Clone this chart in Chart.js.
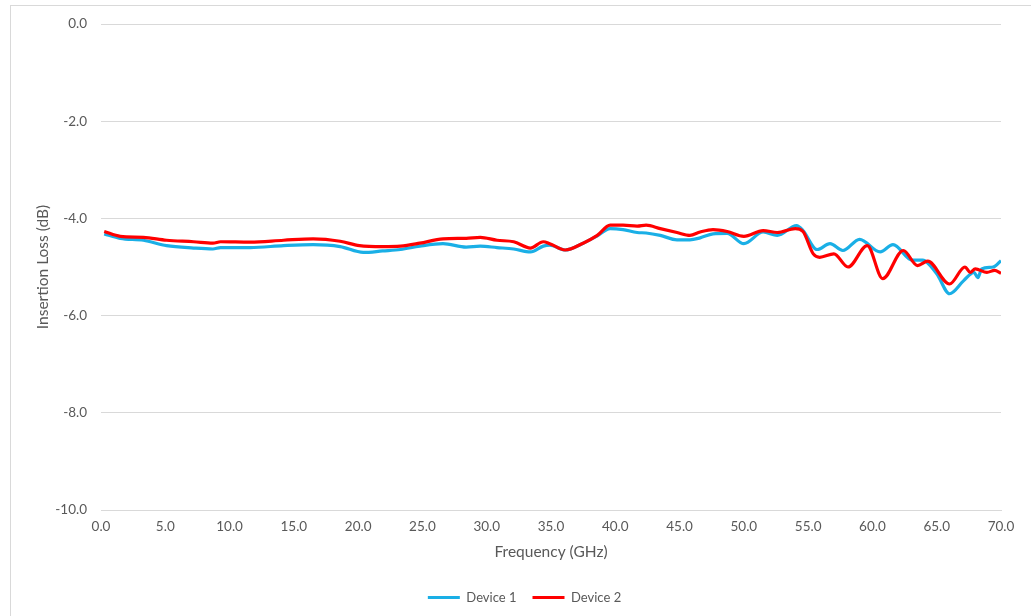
<!DOCTYPE html>
<html>
<head>
<meta charset="utf-8">
<script src="https://cdn.jsdelivr.net/npm/chart.js@4.4.1/dist/chart.umd.min.js"></script>
<style>
  html, body { margin: 0; padding: 0; background: #fff; overflow: hidden; }
  #wrap { position: relative; width: 1031px; height: 616px; }
  #frame { position: absolute; left: 10px; top: 5px; width: 1040px; height: 640px; border: 1px solid #d9d9d9; box-sizing: border-box; pointer-events: none; }
  canvas { position: absolute; left: 0; top: 0; }
</style>
</head>
<body>
<div id="wrap">
  <div id="frame"></div>
  <canvas id="c" width="1031" height="616"></canvas>
</div>
<script>
// ---- Data ----
const seriesNames = ["Device 1", "Device 2"];
const xTickValues = [0, 5, 10, 15, 20, 25, 30, 35, 40, 45, 50, 55, 60, 65, 70];
const yTickValues = [0, -2, -4, -6, -8, -10];

const device1Freq = [0.25,1.5,3.3,5.1,7.2,8.7,9.3,11.6,14.2,16.5,18.6,20.4,21.9,23.3,24.8,26.6,28.4,29.5,30.8,32.1,33.4,34.4,34.9,36.1,37.5,38.6,39.6,40.6,41.7,42.4,43.5,44.8,45.8,46.6,47.6,48.7,50.0,51.5,52.6,54.1,54.6,55.7,56.7,57.7,59.0,60.6,61.6,63.1,63.9,65.0,66.0,67.1,67.9,68.2,68.5,69.4,70.0];
const device1Loss = [-4.32,-4.41,-4.45,-4.56,-4.61,-4.63,-4.60,-4.60,-4.56,-4.54,-4.58,-4.70,-4.67,-4.64,-4.57,-4.52,-4.59,-4.57,-4.60,-4.63,-4.69,-4.57,-4.55,-4.65,-4.51,-4.36,-4.21,-4.23,-4.29,-4.30,-4.35,-4.44,-4.44,-4.40,-4.32,-4.31,-4.52,-4.28,-4.35,-4.15,-4.25,-4.64,-4.52,-4.66,-4.43,-4.69,-4.54,-4.86,-4.86,-5.14,-5.55,-5.28,-5.11,-5.22,-5.04,-5.00,-4.87];

const device2Freq = [0.25,1.5,3.3,5.1,7.2,8.7,9.3,11.6,14.2,16.5,18.6,20.1,21.9,23.3,24.8,26.6,28.4,29.5,30.8,32.1,33.4,34.4,34.9,36.1,37.5,38.6,39.6,40.6,41.7,42.4,43.5,44.8,45.8,46.6,47.6,48.7,50.0,51.5,52.6,54.0,54.6,55.4,55.9,57.0,58.1,59.6,60.8,62.4,63.5,64.3,66.0,67.2,67.6,68.0,68.9,69.5,70.0];
const device2Loss = [-4.27,-4.37,-4.39,-4.45,-4.48,-4.51,-4.48,-4.49,-4.45,-4.42,-4.47,-4.56,-4.58,-4.57,-4.51,-4.42,-4.41,-4.39,-4.45,-4.48,-4.61,-4.48,-4.52,-4.65,-4.51,-4.35,-4.14,-4.14,-4.16,-4.14,-4.21,-4.29,-4.35,-4.28,-4.23,-4.27,-4.37,-4.25,-4.29,-4.21,-4.27,-4.73,-4.80,-4.73,-5.00,-4.56,-5.24,-4.66,-4.97,-4.88,-5.35,-5.00,-5.11,-5.04,-5.11,-5.07,-5.13];

const xTitle = "Frequency (GHz)";
const yTitle = "Insertion Loss (dB)";
const colors = ["#1AAFE6", "#FF0000"];

// ---- Chart ----
const toPoints = (xs, ys) => xs.map((x, i) => ({ x: x, y: ys[i] }));
const FONT = "Lato, 'Noto Sans', sans-serif";
const TXT = "#595959";

new Chart(document.getElementById("c"), {
  type: "line",
  data: {
    datasets: [
      { label: seriesNames[0], data: toPoints(device1Freq, device1Loss), borderColor: colors[0], backgroundColor: colors[0], borderWidth: 3.2, pointRadius: 0, cubicInterpolationMode: "monotone", order: 1 },
      { label: seriesNames[1], data: toPoints(device2Freq, device2Loss), borderColor: colors[1], backgroundColor: colors[1], borderWidth: 3.2, pointRadius: 0, cubicInterpolationMode: "monotone", order: 0 }
    ]
  },
  options: {
    responsive: false,
    animation: false,
    devicePixelRatio: 1,
    layout: { padding: { left: 18, right: 0, top: 24, bottom: 2 } },
    plugins: {
      tooltip: { enabled: false },
      legend: {
        position: "bottom",
        labels: {
          color: TXT,
          font: { family: FONT, size: 13 },
          boxWidth: 32,
          boxHeight: 3,
          padding: 16,
          sort: (a, b) => a.datasetIndex - b.datasetIndex,
          generateLabels: (chart) => Chart.defaults.plugins.legend.labels.generateLabels(chart).map(l => Object.assign(l, { lineWidth: 0 }))
        }
      }
    },
    scales: {
      x: {
        type: "linear",
        min: 0, max: 70,
        afterBuildTicks: (s) => { s.ticks = xTickValues.map(v => ({ value: v })); },
        afterFit: (s) => { s.height = 65; },
        grid: { display: false, drawTicks: false },
        border: { display: true, color: "#d9d9d9", width: 1 },
        ticks: { color: TXT, font: { family: FONT, size: 13.5 }, padding: 9, maxRotation: 0, callback: (v) => Number(v).toFixed(1) },
        title: { display: true, text: xTitle, color: TXT, font: { family: FONT, size: 15.5 }, padding: { top: 0, bottom: 14 } }
      },
      y: {
        type: "linear",
        min: -10, max: 0,
        afterBuildTicks: (s) => { s.ticks = yTickValues.map(v => ({ value: v })); },
        afterFit: (s) => { s.width = 83; },
        grid: { color: "#d9d9d9", drawTicks: false, lineWidth: 1 },
        border: { display: false },
        ticks: { color: TXT, font: { family: FONT, size: 13.5 }, padding: 14, callback: (v) => Number(v).toFixed(1) },
        title: { display: true, text: yTitle, color: TXT, font: { family: FONT, size: 15.5 }, padding: { top: 16, bottom: 0 } }
      },
      y2: {
        position: "right",
        display: true,
        afterFit: (s) => { s.width = 30; },
        grid: { display: false, drawTicks: false },
        border: { display: false },
        ticks: { display: false }
      }
    }
  }
});
</script>
</body>
</html>
